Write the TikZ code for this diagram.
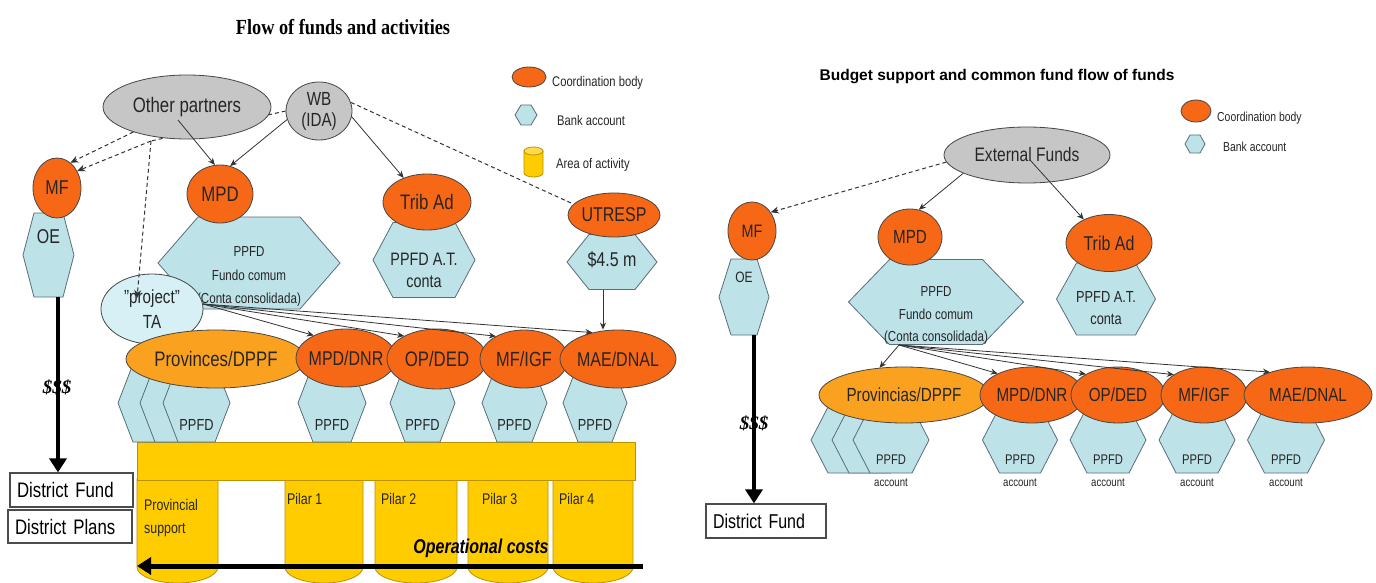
\documentclass[tikz,border=0pt]{standalone}
\usepackage{fontspec}
\setmainfont{Liberation Sans}[FakeStretch=0.8]
\newfontfamily\titleserif{Liberation Serif}[FakeStretch=0.85]
\newfontfamily\plainsans{Liberation Sans}
\newfontfamily\dollarserif{Liberation Serif}
\usetikzlibrary{shapes.geometric,arrows.meta}
\pgfdeclarelayer{back}
\pgfdeclarelayer{bg}
\pgfsetlayers{back,bg,main}
\definecolor{orng}{RGB}{247,104,22}
\definecolor{lorng}{RGB}{250,162,32}
\definecolor{hexb}{RGB}{189,226,232}
\definecolor{ptab}{RGB}{214,240,246}
\definecolor{grayf}{RGB}{198,198,198}
\definecolor{yel}{RGB}{255,204,0}
\definecolor{yelline}{RGB}{185,145,0}
\definecolor{edgec}{RGB}{70,70,70}
\definecolor{hexedge}{RGB}{90,110,120}
\newcommand\fs[2]{\fontsize{#1}{#2}\selectfont}
\tikzset{
  ell/.style={ellipse, draw=edgec, line width=0.8pt, inner sep=0pt, text=black!85},
  cb/.style={ell, fill=orng},
  lcb/.style={ell, fill=lorng},
  gb/.style={ell, fill=grayf},
  hexfill/.style={fill=hexb, draw=hexedge, line width=0.8pt},
  htext/.style={inner sep=0pt, align=center, text=black!85},
  solidarr/.style={draw=black!80, line width=0.8pt, -{Stealth[length=7pt,width=6pt]}},
  dasharr/.style={draw=black!80, line width=1pt, dash pattern=on 4pt off 3pt, -{Stealth[length=8pt,width=7pt]}},
  dashline/.style={draw=black!80, line width=1pt, dash pattern=on 4pt off 3pt},
  thickarr/.style={draw=black, line width=4pt, -{Triangle[length=14pt,width=17pt]}},
  yelbox/.style={fill=yel, draw=yelline, line width=0.8pt},
  distbox/.style={draw=black!70, line width=1.2pt, fill=white, inner ysep=0pt, inner xsep=7pt, align=left},
  legtext/.style={anchor=west, inner sep=0pt, text=black!85},
  coltext/.style={anchor=west, inner sep=0pt, text=black!85, align=left},
}
\newcommand\Hex[9]{%
  \filldraw[hexfill] ({#2-#4/2},#3) -- ({#2-#4/2+#6},{#3-#5/2}) -- ({#2+#4/2-#6},{#3-#5/2}) -- ({#2+#4/2},#3) -- ({#2+#4/2-#6},{#3+#5/2}) -- ({#2-#4/2+#6},{#3+#5/2}) -- cycle;
  \node[inner sep=0pt, minimum width=#4pt, minimum height=#5pt] (#1) at (#2,#3) {};
  \node[htext, font=#8] (#1t) at (#2,{#3+#7}) {#9};}
\newcommand\Col[2]{%
  \filldraw[yelbox] (#1,479) -- (#1,567) arc[start angle=180, end angle=0, x radius={(#2-#1)/2}, y radius=16] -- (#2,479) -- cycle;}
\begin{document}
\begin{tikzpicture}[x=1pt,y=-1pt]
\useasboundingbox (0,0) rectangle (1376,583);
\begin{pgfonlayer}{back}
\fill[white] (0,0) rectangle (1376,583);
\end{pgfonlayer}

%================ LEFT =================
\node[font={\titleserif\bfseries\fs{21.5}{21.5}}] (t1) at (343,27) {Flow of funds and activities};

% legend
\node[cb, minimum width=34pt, minimum height=20pt] (lg1) at (529,77) {};
\node[legtext, font=\fs{14}{14}] (lg1t) at (552,83) {Coordination body};
\Hex{lg2}{526}{115}{22}{20}{6}{0}{\fs{10}{10}}{}
\node[legtext, font=\fs{14}{14}] (lg2t) at (557,120) {Bank account};
\filldraw[yelbox] (524,151) -- (524,173) arc[start angle=180, end angle=0, x radius=9.5, y radius=4] -- (543,151) -- cycle;
\filldraw[yelbox, fill=yel!70!white] (533.5,151) ellipse[x radius=9.5, y radius=4];
\node[legtext, font=\fs{14}{14}] (lg3t) at (556,165) {Area of activity};

% top sources
\node[gb, minimum width=168pt, minimum height=64pt, font=\fs{21}{21}] (other) at (187,107) {Other partners};
\node[gb, minimum width=66pt, minimum height=58pt, align=center, font=\fs{19}{21}] (wb) at (319,111) {WB\\(IDA)};
\coordinate (vd) at (151,141);

% MF / OE
\Hex{oe}{48.5}{255}{51}{84}{11}{-18}{\fs{20}{20}}{OE}
\node[cb, minimum width=48pt, minimum height=60pt, font=\fs{20}{20}] (mf) at (57,188) {MF};

% MPD + common fund
\Hex{ppfd}{249}{263}{182}{92}{40}{14}{\fs{14.5}{23.5}}{PPFD\\Fundo comum\\(Conta consolidada)}
\node[cb, minimum width=66pt, minimum height=58pt, font=\fs{21}{21}] (mpd) at (220,194) {MPD};

% Trib Ad
\Hex{tribh}{424}{260}{102}{75}{20}{10}{\fs{18}{22}}{PPFD A.T.\\conta}
\node[cb, minimum width=88pt, minimum height=56pt, font=\fs{21}{21}] (trib) at (427,202) {Trib Ad};

% UTRESP
\Hex{h45}{612}{262}{90}{55}{22}{-2}{\fs{20}{20}}{\$4.5 m}
\node[cb, minimum width=92pt, minimum height=44pt, font=\fs{20}{20}] (utresp) at (614,215) {UTRESP};

% project TA
\node[ell, fill=ptab, minimum width=102pt, minimum height=70pt, align=center, font=\fs{19}{25}] (pta) at (152,309) {\symbol{34}project\symbol{34}\\TA};

% yellow area
\Col{137}{218}
\Col{285}{363}
\Col{375}{457}
\Col{468}{548}
\Col{553}{633}
\filldraw[yelbox] (137,442) rectangle (635,480);
\node[coltext, font=\fs{15.5}{23}] (lps) at (144,518) {Provincial\\support};
\node[coltext, font=\fs{15.5}{15.5}] (lp1) at (287,499) {Pilar 1};
\node[coltext, font=\fs{15.5}{15.5}] (lp2) at (381,499) {Pilar 2};
\node[coltext, font=\fs{15.5}{15.5}] (lp3) at (482,499) {Pilar 3};
\node[coltext, font=\fs{15.5}{15.5}] (lp4) at (559,499) {Pilar 4};
\node[font={\fs{20}{20}\bfseries\itshape}, inner sep=0pt] (opc) at (481,548) {Operational costs};
\coordinate (ocR) at (643,566);
\coordinate (ocL) at (137,566);
\draw[thickarr, line width=5pt] (ocR) -- (ocL);

% bank accounts row
\Hex{pv1}{151.5}{403}{67}{78}{15}{0}{\fs{16}{16}}{}
\Hex{pv2}{173.5}{403}{67}{78}{15}{0}{\fs{16}{16}}{}
\Hex{pv3}{196.5}{403}{67}{78}{15}{22}{\fs{16}{16}}{PPFD}
\Hex{hb1}{332}{403}{68}{78}{15}{22}{\fs{16}{16}}{PPFD}
\Hex{hb2}{422.5}{403}{65}{78}{15}{22}{\fs{16}{16}}{PPFD}
\Hex{hb3}{514.5}{403}{65}{78}{15}{22}{\fs{16}{16}}{PPFD}
\Hex{hb4}{595}{403}{64}{78}{15}{22}{\fs{16}{16}}{PPFD}

% coordination row
\node[lcb, minimum width=180pt, minimum height=58pt, font=\fs{21}{21}] (prov) at (216,359) {Provinces/DPPF};
\node[cb, minimum width=100pt, minimum height=58pt, font=\fs{20}{20}] (mpddnr) at (346,358) {\makebox[0pt]{MPD/DNR}};
\node[cb, minimum width=100pt, minimum height=60pt, font=\fs{21}{21}] (opded) at (437,359) {OP/DED};
\node[cb, minimum width=88pt, minimum height=58pt, font=\fs{20.5}{20.5}] (mfigf) at (524,359) {MF/IGF};
\node[cb, minimum width=116pt, minimum height=58pt, font=\fs{20}{20}] (maedn) at (618,359) {MAE/DNAL};

% district boxes
\node[distbox, text width=109pt, minimum height=34pt, font=\fs{21}{21}] (dfund) at (71.5,490) {District Fund};
\node[distbox, text width=110pt, minimum height=33pt, font=\fs{21}{21}] (dplans) at (70,526.5) {District Plans};
\node[font={\dollarserif\bfseries\itshape\fs{19}{19}}, inner sep=0pt] (dl1) at (57,387) {\$\$\$};
\draw[thickarr] ([xshift=9.5pt]oe.south) -- ([xshift=9.5pt]oe.south |- dfund.north);

% connectors
\begin{pgfonlayer}{bg}
\draw[dashline] (wb.west) -- (vd);
\end{pgfonlayer}
\draw[dasharr] (vd) -- (mf.40);
\draw[dasharr] (other.205) -- (mf.62);
\draw[dasharr] (vd) -- ([xshift=-15pt,yshift=11pt]pta.center);
\draw[dashline] (wb.15) -- (utresp.165);
\draw[solidarr] ([xshift=-9pt,yshift=-13pt]other.center) -- (mpd.100);
\draw[solidarr] (wb.195) -- (mpd.70);
\draw[solidarr] (wb.-10) -- (trib.134);
\draw[solidarr] ([xshift=-9pt]h45.south) -- ([xshift=-15pt]maedn.north);
\coordinate (fanL) at (203,304);
\draw[solidarr] (fanL) -- (mpddnr.145);
\draw[solidarr] (fanL) -- (opded.145);
\draw[solidarr] (fanL) -- (mfigf.141);
\draw[solidarr] (fanL) -- (maedn.134);

%================ RIGHT =================
\node[font={\plainsans\bfseries\fs{15.5}{15.5}}] (t2) at (997,77) {Budget support and common fund flow of funds};
\node[cb, minimum width=30pt, minimum height=22pt] (rg1) at (1196,111) {};
\node[legtext, font=\fs{13}{13}] (rg1t) at (1217,118) {Coordination body};
\Hex{rg2}{1195}{144}{20}{18}{5}{0}{\fs{10}{10}}{}
\node[legtext, font=\fs{13}{13}] (rg2t) at (1223,147) {Bank account};

\node[gb, minimum width=166pt, minimum height=56pt, font=\fs{19.5}{19.5}] (ext) at (1027,155) {External Funds};

\Hex{oe2}{744}{297}{50}{76}{12}{-20}{\fs{15}{15}}{OE}
\node[cb, minimum width=48pt, minimum height=58pt, font=\fs{18}{18}] (mf2) at (752,231) {MF};

\Hex{ppfd2}{936}{302}{175}{85}{41}{14}{\fs{14.5}{22.5}}{PPFD\\Fundo comum\\(Conta consolidada)}
\node[cb, minimum width=64pt, minimum height=56pt, font=\fs{19}{19}] (mpd2) at (910,237) {MPD};

\Hex{tribh2}{1106}{299}{99}{72}{20}{9}{\fs{16}{22}}{PPFD A.T.\\conta}
\node[cb, minimum width=86pt, minimum height=57pt, font=\fs{20}{20}] (trib2) at (1109,243) {Trib Ad};

\Hex{rp1}{849}{440}{76}{66}{17}{0}{\fs{14}{22}}{}
\Hex{rp2}{870}{440}{76}{66}{17}{0}{\fs{14}{22}}{}
\Hex{rp3}{891}{440}{76}{66}{17}{31}{\fs{14}{22}}{PPFD\\{\fs{12}{22}account}}
\Hex{rb1}{1020}{440}{75}{66}{17}{31}{\fs{14}{22}}{PPFD\\{\fs{12}{22}account}}
\Hex{rb2}{1108}{440}{76}{66}{17}{31}{\fs{14}{22}}{PPFD\\{\fs{12}{22}account}}
\Hex{rb3}{1197}{440}{76}{66}{17}{31}{\fs{14}{22}}{PPFD\\{\fs{12}{22}account}}
\Hex{rb4}{1286}{440}{77}{66}{17}{31}{\fs{14}{22}}{PPFD\\{\fs{12}{22}account}}

\node[lcb, minimum width=170pt, minimum height=56pt, font=\fs{19}{19}] (prov2) at (904,395) {Provincias/DPPF};
\node[cb, minimum width=104pt, minimum height=56pt, font=\fs{19}{19}] (mpddnr2) at (1032,395) {\makebox[0pt]{MPD/DNR}};
\node[cb, minimum width=94pt, minimum height=56pt, font=\fs{19}{19}] (opded2) at (1118,395) {OP/DED};
\node[cb, minimum width=86pt, minimum height=56pt, font=\fs{19}{19}] (mfigf2) at (1204,395) {MF/IGF};
\node[cb, minimum width=128pt, minimum height=56pt, font=\fs{19}{19}] (maedn2) at (1308,395) {MAE/DNAL};

\node[distbox, text width=106pt, minimum height=34pt, font=\fs{20}{20}] (df2) at (766,521) {District Fund};
\node[font={\dollarserif\bfseries\itshape\fs{19}{19}}, inner sep=0pt] (dl2) at (754,423) {\$\$\$};
\draw[thickarr] ([xshift=10pt]oe2.south) -- ([xshift=10pt]oe2.south |- df2.north);

\draw[dasharr] (ext.185) -- (mf2.45);
\draw[solidarr] (ext.196) -- (mpd2.72);
\draw[solidarr] ([xshift=3pt,yshift=-5pt]ext.center) -- (trib2.137);
\coordinate (fanR) at (899,345);
\draw[solidarr] (fanR) -- (prov2.132);
\draw[solidarr] (fanR) -- (mpddnr2.148);
\draw[solidarr] (fanR) -- (opded2.147);
\draw[solidarr] (fanR) -- (mfigf2.146);
\draw[solidarr] (fanR) -- (maedn2.149);
\end{tikzpicture}
\end{document}
